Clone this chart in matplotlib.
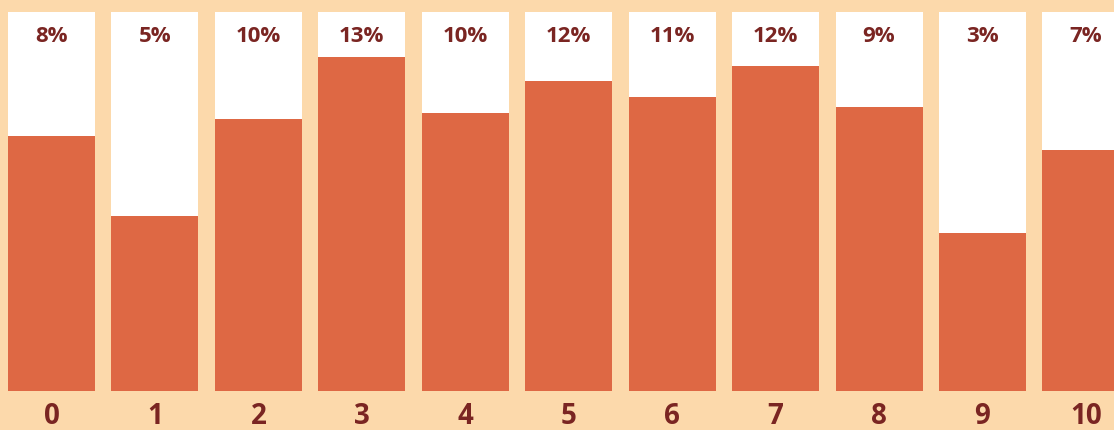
import numpy as np
import matplotlib
matplotlib.use("Agg")
import matplotlib.pyplot as plt

# data
categories = ["0", "1", "2", "3", "4", "5", "6", "7", "8", "9", "10"]
pct_labels = ["8%", "5%", "10%", "13%", "10%", "12%", "11%", "12%", "9%", "3%", "7%"]
bar_share = [0.673, 0.462, 0.718, 0.881, 0.734, 0.818, 0.776, 0.858, 0.749, 0.417, 0.636]  # share of column filled

bg = "#FCD9AB"
orange = "#DE6844"
dark = "#7A2522"

fig = plt.figure(figsize=(11.14, 4.30), dpi=100, facecolor=bg)
ax = fig.add_axes([0, 0, 1, 1])
ax.set_facecolor(bg)

x = np.arange(len(categories))
w = 87 / 103.44
ax.bar(x, 1.0, width=w, color="white", linewidth=0)
ax.bar(x, bar_share, width=w, color=orange, linewidth=0)

for i in range(len(categories)):
    ax.text(x[i], 0.935, pct_labels[i], ha="center", va="center", fontsize=16,
            fontweight="bold", color=dark, family="Open Sans")
    ax.text(x[i], -0.068, categories[i], ha="center", va="center", fontsize=20,
            fontweight="bold", color=dark, family="Open Sans")

ax.set_xlim(-51.5 / 103.44, (1114 - 51.5) / 103.44)
ax.set_ylim(-39 / 379, 391 / 379)
ax.axis("off")

fig.savefig("out.png", dpi=100, facecolor=bg)
